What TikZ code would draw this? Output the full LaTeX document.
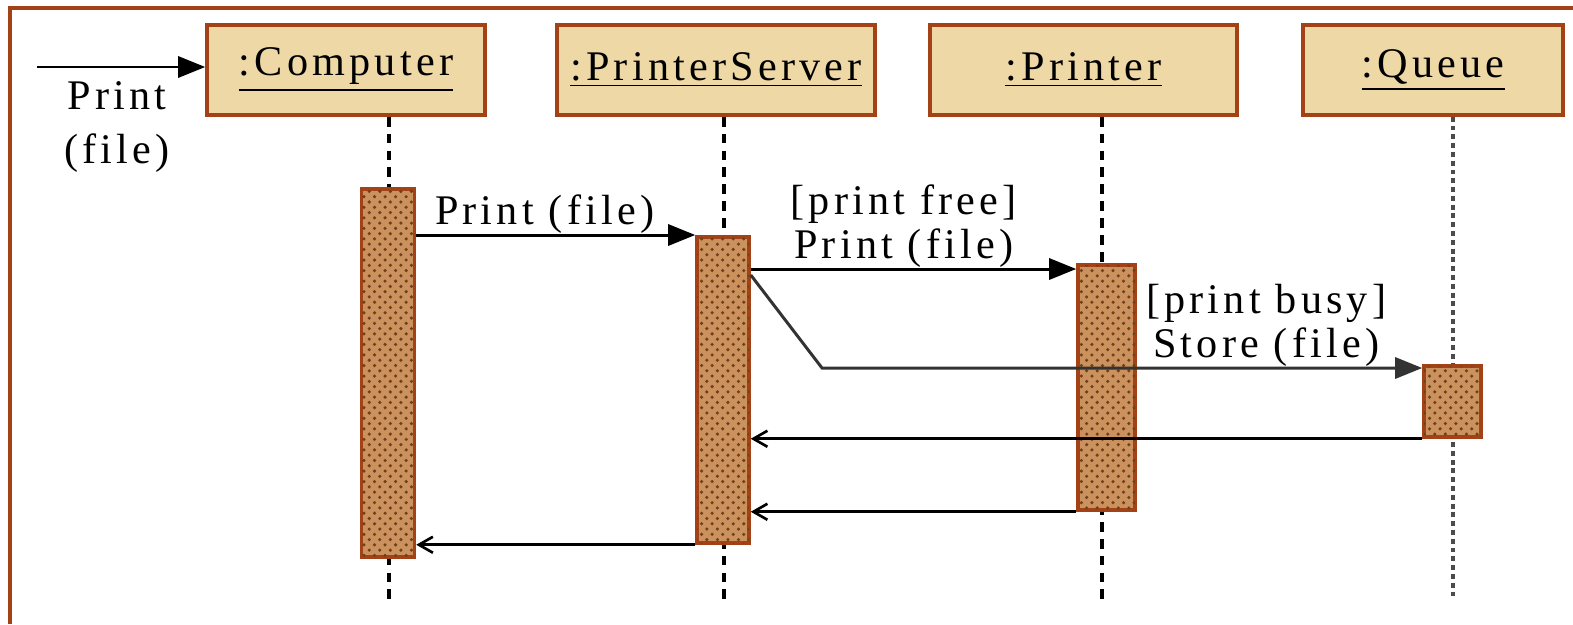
\documentclass[tikz,border=0pt]{standalone}
\usepackage{fontspec}
\setmainfont{Liberation Serif}[LetterSpace=10]
\usetikzlibrary{arrows.meta,patterns}
\newcommand{\unitsize}{0.01cm}

\definecolor{rust}{RGB}{163,66,22}
\definecolor{parchment}{RGB}{238,216,166}
\definecolor{cork}{RGB}{204,146,94}
\definecolor{corkdark}{RGB}{110,64,30}

\tikzset{
  objbox/.style={draw=rust, line width=1pt, fill=parchment,
                 minimum height=90*\unitsize, inner sep=0pt,
                 font=\fontsize{12}{14}\selectfont},
  actbar/.style={draw=rust, line width=1pt, fill=cork,
                 postaction={pattern=crosshatch dots, pattern color=corkdark},
                 inner sep=0pt},
  life/.style={dash pattern=on 2.8pt off 2pt, line width=1pt},
  queuelife/.style={dash pattern=on 1.4pt off 1.1pt, line width=1.1pt, black!70},
  call/.style={line width=0.85pt, -{Triangle[length=2.7mm,width=2.1mm]}},
  reply/.style={line width=0.75pt, -{Straight Barb[length=1.4mm,width=1.6mm]}},
  msg/.style={font=\fontsize{12}{12.5}\selectfont, align=center, inner sep=0pt}
}

\begin{document}
\begin{tikzpicture}[x=\unitsize, y=-\unitsize]
\useasboundingbox (0,0) rectangle (1573,624);
\draw[rust, line width=1.2pt] (10,624) -- (10,8) -- (1573,8);

% objects
\node[objbox, minimum width=278*\unitsize] (computer) at (346,70)    {\underline{:Computer}};
\node[objbox, minimum width=318*\unitsize] (server)   at (716,70)    {\underline{:PrinterServer}};
\node[objbox, minimum width=307*\unitsize] (printer)  at (1083.5,70) {\underline{:Printer}};
\node[objbox, minimum width=260*\unitsize] (queue)    at (1433,70)   {\underline{:Queue}};

% lifelines
\coordinate (endC) at (389,603);
\coordinate (endS) at (724,600);
\coordinate (endP) at (1102,600);
\coordinate (endQ) at (1453,597);
\draw[life] (computer.south -| endC) -- (endC);
\draw[life] (server.south -| endS) -- (endS);
\draw[life] (printer.south -| endP) -- (endP);
\draw[queuelife] (queue.south -| endQ) -- (endQ);

% activations
\node[actbar, minimum width=53*\unitsize, minimum height=368*\unitsize] (actC) at (388,373)    {};
\node[actbar, minimum width=52*\unitsize, minimum height=306*\unitsize] (actS) at (723,390)    {};
\node[actbar, minimum width=57*\unitsize, minimum height=245*\unitsize] (actP) at (1106.5,387.5) {};
\node[actbar, minimum width=57*\unitsize, minimum height=71*\unitsize]  (actQ) at (1452.5,401.5) {};

% messages
\coordinate (user) at (37,67);
\draw[call] (user) -- (computer.west |- user);
\node[msg] (userlbl) at (117,127) {Print\\[0.5ex](file)};

\draw[call] (actC.east |- 0,235) -- node[msg, above=0pt, pos=0.46] {Print (file)} (actS.west |- 0,235);
\draw[call] (actS.east |- 0,269) -- node[msg, above=0pt, pos=0.47] {[print free]\\Print (file)} (actP.west |- 0,269);
\coordinate (bend) at (822,368);
\draw[call, black!80] (actS.east |- 0,275) -- (bend)
  -- node[msg, above=0pt, pos=0.74, black] {[print busy]\\Store (file)} (actQ.west |- bend);

\draw[reply] (actQ.south west) -- (actS.east |- actQ.south west);
\draw[reply] (actP.south west) -- (actS.east |- actP.south west);
\draw[reply] (actS.south west) -- (actC.east |- actS.south west);
\end{tikzpicture}
\end{document}
